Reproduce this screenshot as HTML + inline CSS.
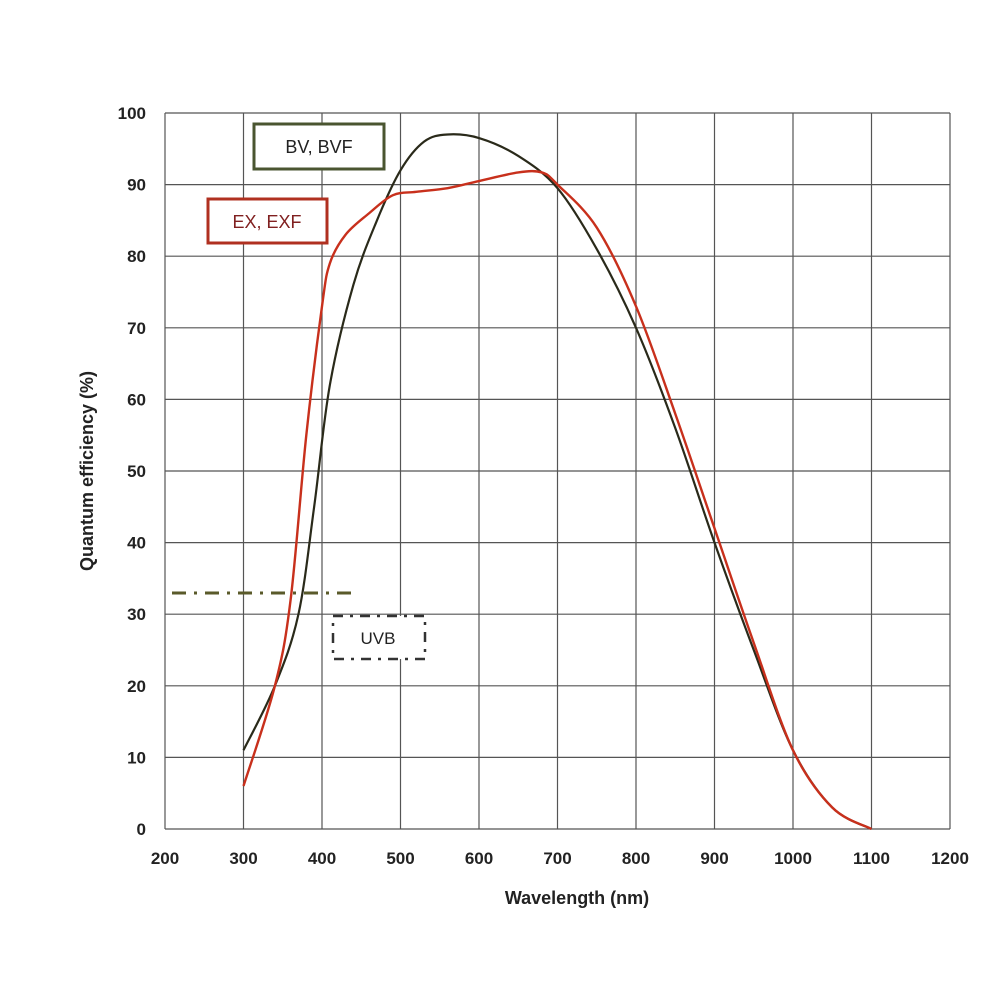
<!DOCTYPE html><html><head><style>body{margin:0;background:#fff}svg{display:block}text{font-family:"Liberation Sans",sans-serif}</style></head><body>
<svg id="s" width="1000" height="1000" xmlns="http://www.w3.org/2000/svg">
<g id="grid" stroke="#555" stroke-width="1.2" fill="none"></g>
<g font-size="17" font-weight="bold" fill="#222" id="lab"></g>
<text x="577" y="904" font-size="18" font-weight="bold" text-anchor="middle" fill="#222">Wavelength (nm)</text>
<text transform="translate(93,471) rotate(-90)" font-size="18" font-weight="bold" text-anchor="middle" fill="#222">Quantum efficiency (%)</text>
<line x1="172" y1="593" x2="358" y2="593" stroke="#5a5a2a" stroke-width="3" stroke-dasharray="14,8,3,8"/>
<rect x="333" y="616" width="92" height="43" fill="#fff" stroke="#333" stroke-width="2.5" stroke-dasharray="10,7,3,7"/>
<text x="378" y="644" font-size="17" text-anchor="middle" fill="#222">UVB</text>
<rect x="254" y="124" width="130" height="45" fill="#fff" stroke="#4a5530" stroke-width="3"/>
<text x="319" y="153" font-size="18" text-anchor="middle" fill="#222">BV, BVF</text>
<rect x="208" y="199" width="119" height="44" fill="#fff" stroke="#b03020" stroke-width="3"/>
<text x="267" y="228" font-size="18" text-anchor="middle" fill="#802020">EX, EXF</text>
<path id="b" fill="none" stroke="#2a2a1a" stroke-width="2.2"/>
<path id="r" fill="none" stroke="#c8301c" stroke-width="2.4"/>
</svg>
<script>
var X=n=>165+(n-200)*0.785,Y=v=>829-v*7.16,g=document.getElementById('grid'),l=document.getElementById('lab'),ns='http://www.w3.org/2000/svg';
function el(p,t,a){var e=document.createElementNS(ns,t);for(var k in a)e.setAttribute(k,a[k]);p.appendChild(e);return e}
for(var n=200;n<=1200;n+=100){el(g,'line',{x1:X(n),x2:X(n),y1:113,y2:829});var t=el(l,'text',{x:X(n),y:864,'text-anchor':'middle'});t.textContent=n}
for(var v=0;v<=100;v+=10){el(g,'line',{x1:165,x2:950,y1:Y(v),y2:Y(v)});var t=el(l,'text',{x:146,y:Y(v)+6,'text-anchor':'end'});t.textContent=v}
function path(pts){var p=pts.map(a=>[X(a[0]),Y(a[1])]),d='M'+p[0];for(var i=0;i<p.length-1;i++){var p0=p[i-1]||p[i],p1=p[i],p2=p[i+1],p3=p[i+2]||p2;d+='C'+(p1[0]+(p2[0]-p0[0])/6)+','+(p1[1]+(p2[1]-p0[1])/6)+' '+(p2[0]-(p3[0]-p1[0])/6)+','+(p2[1]-(p3[1]-p1[1])/6)+' '+p2}return d}
document.getElementById('b').setAttribute('d',path([[300,11],[340,20],[370,30],[390,45],[410,62],[440,76],[470,85],[500,92],[530,96],[560,97],[600,96.5],[650,94],[700,89.5],[750,81],[800,70],[850,56],[900,40],[950,25],[1000,11],[1050,3],[1100,0]]));
document.getElementById('r').setAttribute('d',path([[300,6],[340,20],[360,32],[380,55],[400,73],[410,79],[430,83],[460,86],[490,88.5],[520,89],[560,89.5],[600,90.5],[650,91.7],[680,91.7],[700,90],[750,84],[800,73],[850,58],[900,42],[950,26],[1000,11],[1050,3],[1100,0]]));
</script></body></html>
